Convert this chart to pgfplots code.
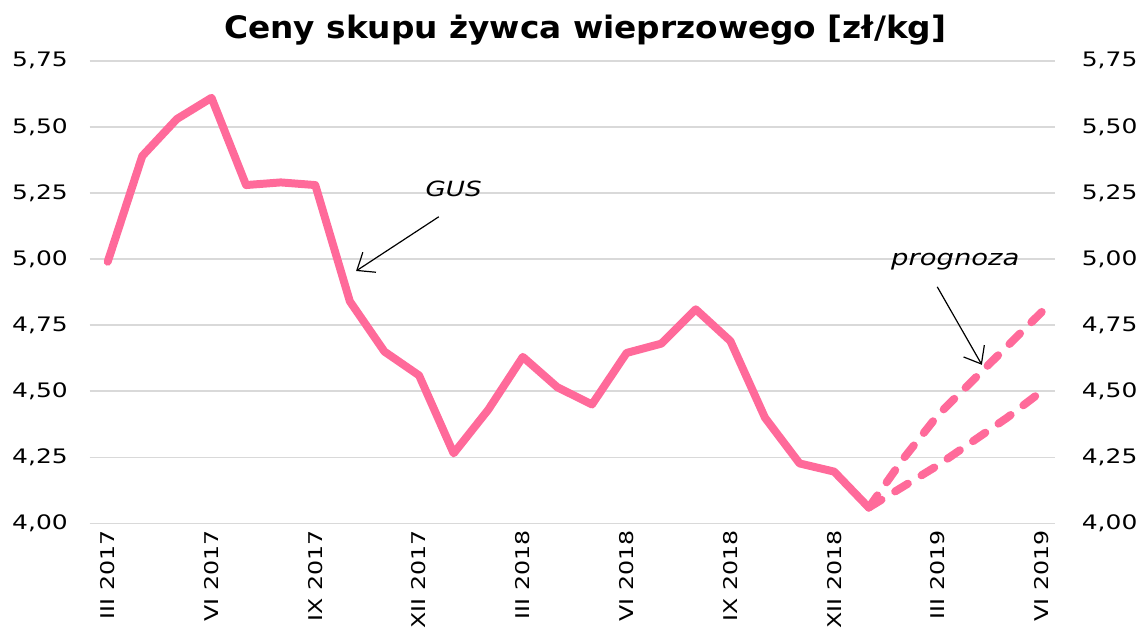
\documentclass[border=0pt]{standalone}
\usepackage{pgfplots}
\pgfplotsset{compat=1.18}
\usetikzlibrary{arrows.meta}
\usepackage{fontspec}
\setmainfont{DejaVu Sans}
\newfontfamily\wide[FakeStretch=1.25]{DejaVu Sans}
\newfontfamily\titlefont[FakeStretch=1.06]{DejaVu Sans}
\definecolor{pinkline}{HTML}{FF6A9A}
\definecolor{gridc}{HTML}{D9D9D9}
\pgfplotstableread{
x y
0 4.99
1 5.39
2 5.53
3 5.61
4 5.28
5 5.29
6 5.28
7 4.84
8 4.65
9 4.56
10 4.265
11 4.43
12 4.63
13 4.515
14 4.45
15 4.645
16 4.68
17 4.81
18 4.69
19 4.40
20 4.227
21 4.196
22 4.06
}\gus
\pgfplotstableread{
x y
22 4.06
23 4.245
24 4.41
25 4.54
26 4.67
27 4.80
}\progup
\pgfplotstableread{
x y
22 4.06
23 4.14
24 4.22
25 4.31
26 4.40
27 4.50
}\proglow
\begin{document}
\begin{tikzpicture}
\pgfplotsset{
  common/.style={
    scale only axis, width=484pt, height=232pt,
    xmin=-0.52, xmax=27.38, ymin=4, ymax=5.75,
    ytick={4,4.25,...,5.75},
    /pgf/number format/.cd, fixed, fixed zerofill, precision=2, use comma, assume math mode=true,
    /pgfplots/.cd,
    yticklabel style={font=\wide\fontsize{10}{12}\selectfont, text=black},
    major tick length=0pt,
    axis line style={draw=none},
  }
}
\begin{axis}[common,
  ymajorgrids, grid style={gridc, line width=0.8pt},
  xtick={0,3,...,27},
  xticklabels={III 2017, VI 2017, IX 2017, XII 2017, III 2018, VI 2018, IX 2018, XII 2018, III 2019, VI 2019},
  xticklabel style={rotate=90, anchor=east, font=\wide\fontsize{9.5}{11}\selectfont, xshift=0pt},
  yticklabel style={xshift=-7.5pt},
  clip=false,
]
\addplot[pinkline, line width=4pt, line join=round, line cap=round] table[x=x,y=y]{\gus};
\addplot[pinkline, line width=4pt, line cap=round, dash pattern=on 7.5pt off 8pt] table[x=x,y=y]{\progup};
\addplot[pinkline, line width=4pt, line cap=round, dash pattern=on 7.5pt off 8pt] table[x=x,y=y]{\proglow};
\node[font=\wide\itshape\fontsize{10.5}{12}\selectfont] at (axis cs:10.0,5.265) {GUS};
\draw[-{Straight Barb[length=7.5pt,width=12pt]}, line width=0.6pt] (axis cs:9.57,5.16) -- (axis cs:7.18,4.955);
\node[font=\wide\itshape\fontsize{11}{13}\selectfont] at (axis cs:24.5,4.99) {prognoza};
\draw[-{Straight Barb[length=7.5pt,width=12pt]}, line width=0.6pt] (axis cs:23.98,4.895) -- (axis cs:25.27,4.60);
\end{axis}
\begin{axis}[common,
  axis y line*=right, axis x line=none,
  yticklabel style={xshift=10pt, anchor=west},
]
\end{axis}
\node[font=\titlefont\bfseries\fontsize{15.5}{18}\selectfont] at (248.5pt,247.5pt) {Ceny skupu żywca wieprzowego [zł/kg]};
\path[use as bounding box] (-45pt,-51.5pt) rectangle (527pt,262.5pt);
\end{tikzpicture}
\end{document}
